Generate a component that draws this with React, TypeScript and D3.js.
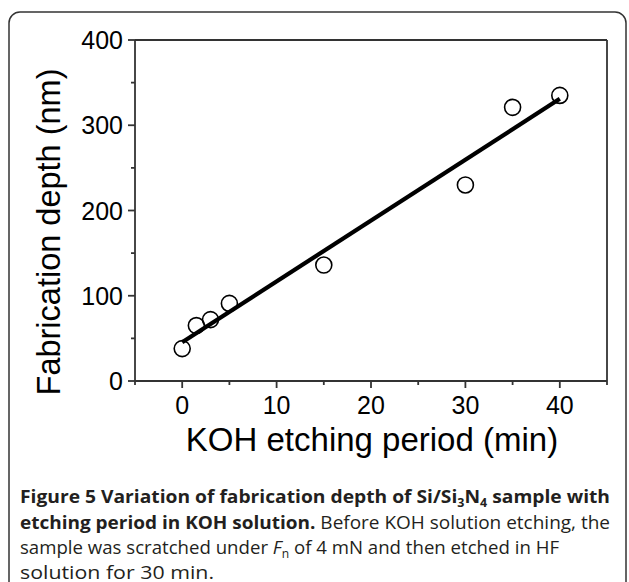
import React from "react";
import * as d3 from "d3";

const etchTimes = [0, 1.5, 3, 5, 15, 30, 35, 40];
const depths = [38, 65, 72, 91, 136, 230, 321, 335];
const xMajorTicks = [0, 10, 20, 30, 40];
const xMinorTicks = [-5, 5, 15, 25, 35, 45];
const yMajorTicks = [0, 100, 200, 300, 400];
const yMinorTicks = [50, 150, 250, 350];
const xDomain = [-5, 45];
const yDomain = [0, 400];
const fitRange = [0, 40];

const W = 629;
const H = 582;
const plot = { left: 135, right: 607, top: 40, bottom: 381 };

export default function App() {
  const x = d3.scaleLinear().domain(xDomain).range([plot.left, plot.right]);
  const y = d3.scaleLinear().domain(yDomain).range([plot.bottom, plot.top]);

  const mx = d3.mean(etchTimes) as number;
  const my = d3.mean(depths) as number;
  let sxy = 0, sxx = 0;
  etchTimes.forEach((t, i) => {
    sxy += (t - mx) * (depths[i] - my);
    sxx += (t - mx) * (t - mx);
  });
  const slope = sxy / sxx;
  const intercept = my - slope * mx;
  const fitLine = d3
    .line<number>()
    .x((t) => x(t))
    .y((t) => y(intercept + slope * t));

  const axisColor = "#333";
  const font = "Arial, 'Liberation Sans', sans-serif";
  const capFont = "'Open Sans', sans-serif";
  const capColor = "#231f20";

  return (
    <svg
      width={W}
      height={H}
      style={{ position: "absolute", left: 0, top: 0, background: "#fff" }}
    >
      <rect x={9} y={12} width={617} height={620} rx={11} fill="none" stroke="#333" strokeWidth={1.5} />

      {/* frame */}
      <line x1={plot.left} x2={plot.right} y1={plot.top} y2={plot.top} stroke={axisColor} strokeWidth={1.8} />
      <line x1={plot.right} x2={plot.right} y1={plot.top} y2={plot.bottom} stroke={axisColor} strokeWidth={1.8} />
      <line x1={plot.left} x2={plot.left} y1={plot.top} y2={plot.bottom} stroke={axisColor} strokeWidth={1.8} />
      <line x1={plot.left} x2={plot.right} y1={plot.bottom} y2={plot.bottom} stroke={axisColor} strokeWidth={1.8} />

      {/* x ticks */}
      {xMajorTicks.map((t) => (
        <g key={"xM" + t}>
          <line x1={x(t)} x2={x(t)} y1={plot.bottom} y2={plot.bottom + 7} stroke={axisColor} strokeWidth={1.8} />
          <text x={x(t)} y={plot.bottom + 33} textAnchor="middle" fontFamily={font} fontSize={25} fill="#000">
            {t}
          </text>
        </g>
      ))}
      {xMinorTicks.map((t) => (
        <line key={"xm" + t} x1={x(t)} x2={x(t)} y1={plot.bottom} y2={plot.bottom + 4} stroke={axisColor} strokeWidth={1.8} />
      ))}

      {/* y ticks */}
      {yMajorTicks.map((t) => (
        <g key={"yM" + t}>
          <line x1={plot.left - 7} x2={plot.left} y1={y(t)} y2={y(t)} stroke={axisColor} strokeWidth={1.8} />
          <text x={plot.left - 12} y={y(t) + 9} textAnchor="end" fontFamily={font} fontSize={25} fill="#000">
            {t}
          </text>
        </g>
      ))}
      {yMinorTicks.map((t) => (
        <line key={"ym" + t} x1={plot.left - 4} x2={plot.left} y1={y(t)} y2={y(t)} stroke={axisColor} strokeWidth={1.8} />
      ))}

      {/* axis titles */}
      <text x={372} y={451} textAnchor="middle" fontFamily={font} fontSize={33} fill="#000">
        KOH etching period (min)
      </text>
      <text
        transform={`translate(60, 232) rotate(-90)`}
        textAnchor="middle"
        fontFamily={font}
        fontSize={32.5}
        fill="#000"
      >
        Fabrication depth (nm)
      </text>

      {/* points */}
      {etchTimes.map((t, i) => (
        <circle key={"p" + i} cx={x(t)} cy={y(depths[i])} r={8} fill="none" stroke="#000" strokeWidth={1.6} />
      ))}

      {/* fit */}
      <path d={fitLine(fitRange) as string} fill="none" stroke="#000" strokeWidth={4.2} />

      {/* caption */}
      <g fontFamily={capFont} fontSize={18.5} fill={capColor}>
        <text x={20} y={503} textLength={590} lengthAdjust="spacingAndGlyphs">
          <tspan fontWeight="bold">Figure 5 Variation of fabrication depth of Si/Si</tspan>
          <tspan fontWeight="bold" fontSize={12} dy={4}>3</tspan>
          <tspan fontWeight="bold" dy={-4}>N</tspan>
          <tspan fontWeight="bold" fontSize={12} dy={4}>4</tspan>
          <tspan fontWeight="bold" dy={-4}> sample with</tspan>
        </text>
        <text x={20} y={528.5} textLength={590} lengthAdjust="spacingAndGlyphs">
          <tspan fontWeight="bold">etching period in KOH solution.</tspan>
          <tspan> Before KOH solution etching, the</tspan>
        </text>
        <text x={20} y={554} textLength={539} lengthAdjust="spacingAndGlyphs">
          <tspan>sample was scratched under </tspan>
          <tspan fontStyle="italic">F</tspan>
          <tspan fontSize={12} dy={4}>n</tspan>
          <tspan dy={-4}> of 4 mN and then etched in HF</tspan>
        </text>
        <text x={20} y={579} textLength={194} lengthAdjust="spacingAndGlyphs">
          solution for 30 min.
        </text>
      </g>
    </svg>
  );
}
